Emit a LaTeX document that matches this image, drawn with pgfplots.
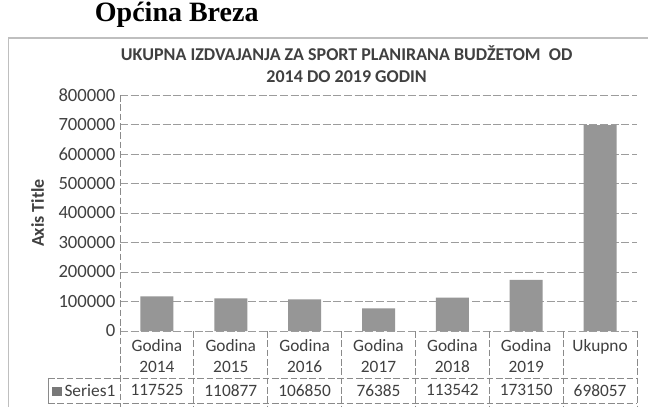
\documentclass[border=0pt]{standalone}
\usepackage{pgfplots}
\pgfplotsset{compat=1.18}
\usepackage{fontspec}
\setmainfont{Carlito}
\newfontfamily\serifb{Liberation Serif}
\definecolor{txt}{HTML}{404040}
\definecolor{barc}{HTML}{969696}
\definecolor{gridc}{HTML}{8A8A8A}
\tikzset{tabline/.style={gridc, dash pattern=on 5pt off 2pt, line width=0.6pt},
  valnode/.style={font=\fontsize{13}{15}\selectfont, text=txt}}
\begin{document}
\begin{tikzpicture}
\useasboundingbox (0,0) rectangle (486pt,304.5pt);
\clip (0,0) rectangle (486pt,304.5pt);
\fill[white] (0,0) rectangle (486pt,304.5pt);
% outer chart frame
\draw[gray!50, line width=0.8pt] (6.5pt,-2pt) -- (6.5pt,276pt) -- (490pt,276pt);
% header text
\node[anchor=base west, font=\serifb\bfseries\fontsize{21}{24}\selectfont, inner sep=0] at (71pt,288pt) {Općina Breza};
\node[align=center, font=\bfseries\fontsize{13.5}{16.5}\selectfont, text=txt] at (260pt,256.5pt) {UKUPNA IZDVAJANJA ZA SPORT PLANIRANA BUDŽETOM\ \ OD\\2014 DO 2019 GODIN};
\begin{axis}[
  at={(90pt,56.25pt)}, anchor=south west,
  scale only axis, width=387.75pt, height=177pt,
  xmin=-0.5, xmax=6.5, ymin=0, ymax=800000,
  ytick={0,100000,...,800000},
  scaled y ticks=false,
  yticklabel style={/pgf/number format/fixed, /pgf/number format/1000 sep={}, font=\fontsize{14}{16}\selectfont, text=txt},
  /pgf/number format/assume math mode=true,
  xtick={0,...,6},
  xticklabels={{Godina\\2014},{Godina\\2015},{Godina\\2016},{Godina\\2017},{Godina\\2018},{Godina\\2019},{Ukupno}},
  xticklabel style={align=center, font=\fontsize{13}{15.5}\selectfont, text=txt, yshift=-3pt},
  major tick length=0pt,
  axis line style={draw=none},
  ymajorgrids, grid style={gridc!85, dash pattern=on 6pt off 2pt, line width=0.6pt},
  ylabel={\textbf{Axis Title}}, ylabel style={font=\fontsize{13.5}{15}\selectfont, text=txt, yshift=4pt},
  clip=false,
  ybar, bar width=24.75pt,
]
\addplot[fill=barc, draw=none] coordinates {(0,117525) (1,110877) (2,106850) (3,76385) (4,113542) (5,173150) (6,698057)};
% data table lines
\draw[tabline] (axis cs:-0.5,800000) -- (axis cs:-0.5,-270000);
\draw[tabline] (axis cs:0.5,0) -- (axis cs:0.5,-270000);
\draw[tabline] (axis cs:1.5,0) -- (axis cs:1.5,-270000);
\draw[tabline] (axis cs:2.5,0) -- (axis cs:2.5,-270000);
\draw[tabline] (axis cs:3.5,0) -- (axis cs:3.5,-270000);
\draw[tabline] (axis cs:4.5,0) -- (axis cs:4.5,-270000);
\draw[tabline] (axis cs:5.5,0) -- (axis cs:5.5,-270000);
\draw[tabline] (axis cs:6.5,0) -- (axis cs:6.5,-270000);
\draw[tabline] (axis cs:-1.475,-159000) -- (axis cs:6.5,-159000);
\draw[tabline] (axis cs:-1.475,-244000) -- (axis cs:6.5,-244000);
\draw[gridc, line width=0.6pt] (axis cs:-1.475,-159000) -- (axis cs:-1.475,-244000);
\node[valnode] at (axis cs:-0.99,-201000) {\textcolor{barc!80!black}{\rule{7pt}{7pt}}\,Series1};
\node[valnode] at (axis cs:0,-201000) {117525};
\node[valnode] at (axis cs:1,-201000) {110877};
\node[valnode] at (axis cs:2,-201000) {106850};
\node[valnode] at (axis cs:3,-201000) {76385};
\node[valnode] at (axis cs:4,-201000) {113542};
\node[valnode] at (axis cs:5,-201000) {173150};
\node[valnode] at (axis cs:6,-201000) {698057};
\end{axis}
\end{tikzpicture}
\end{document}
